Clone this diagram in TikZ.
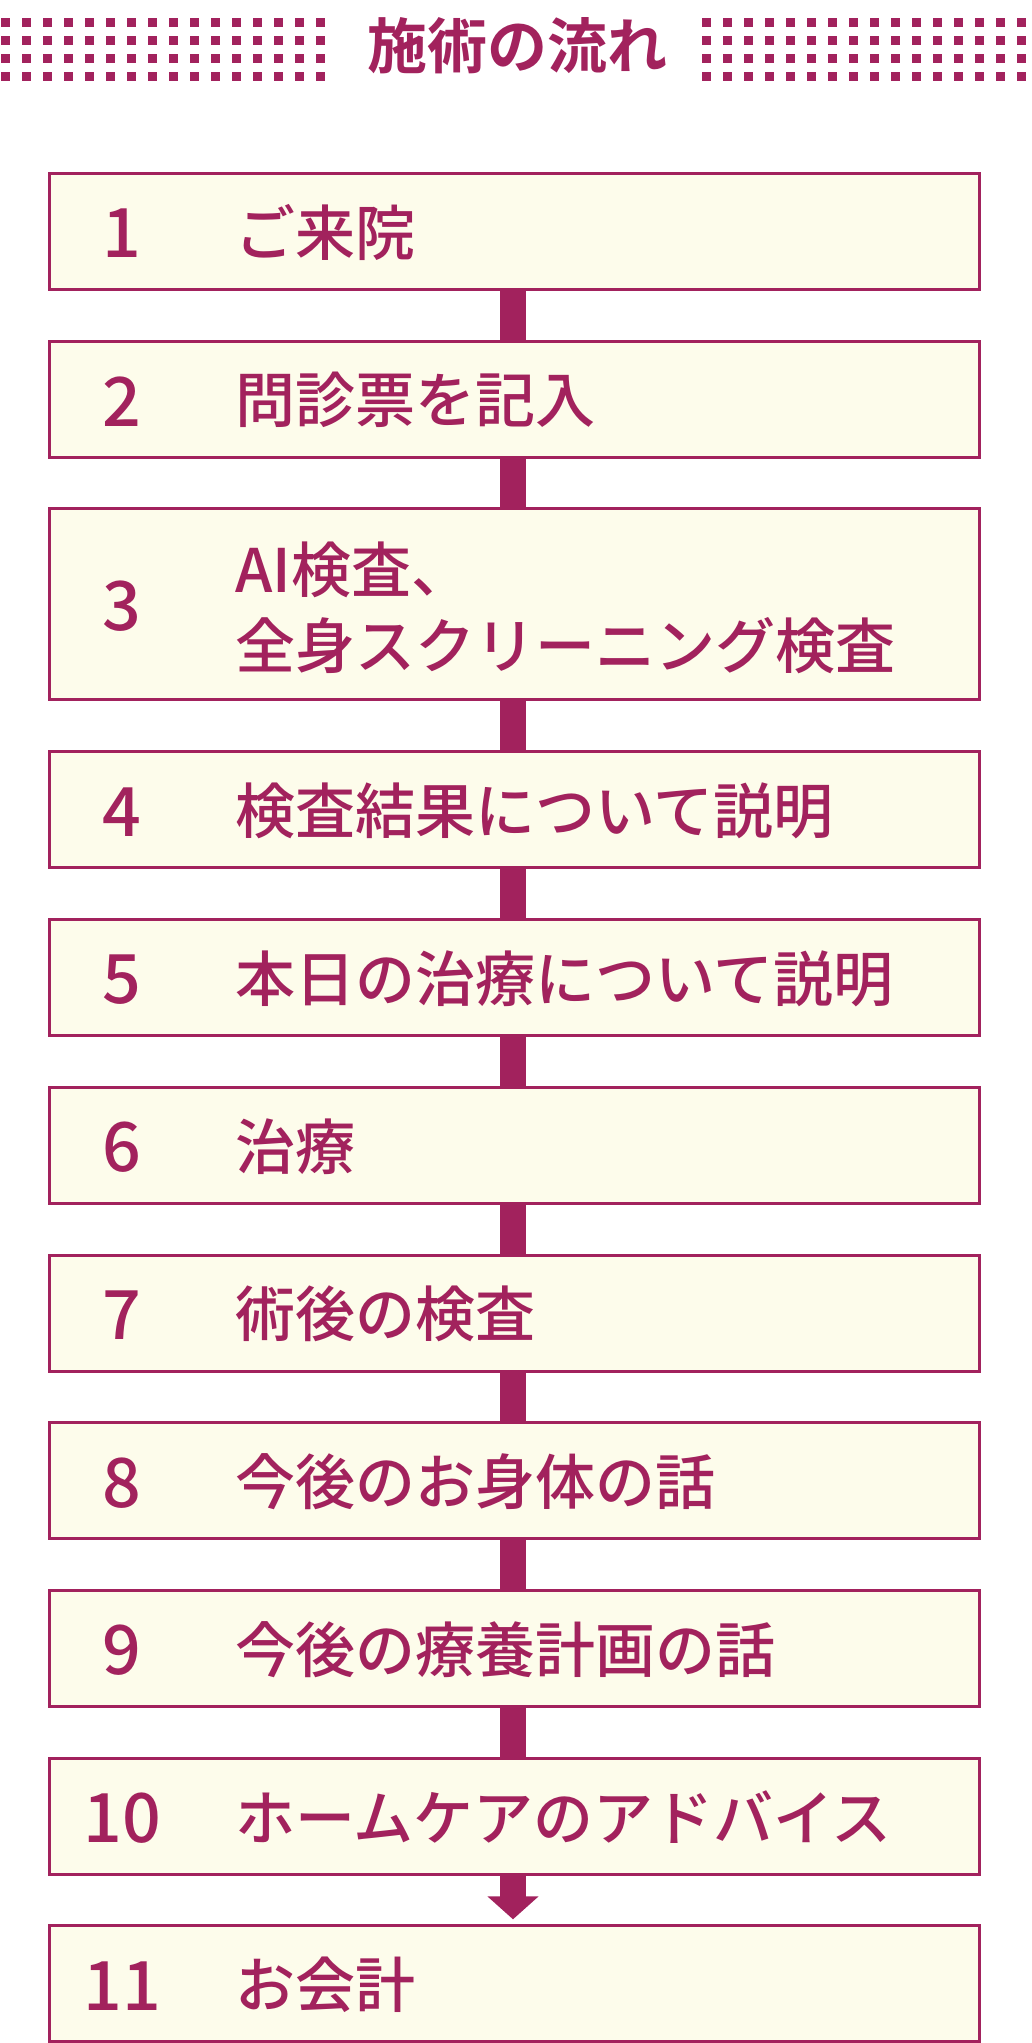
\documentclass[tikz,border=0pt]{standalone}
\usepackage{fontspec}
\usetikzlibrary{arrows.meta,calc}
\IfFontExistsTF{Noto Sans CJK JP Medium}
  {\newfontfamily\jpm{Noto Sans CJK JP Medium}}
  {\newfontfamily\jpm{Noto Sans CJK JP}[FakeBold=1.2]}
\IfFontExistsTF{Noto Sans CJK JP Bold}
  {\newfontfamily\jpb{Noto Sans CJK JP Bold}}
  {\newfontfamily\jpb{Noto Sans CJK JP}[FakeBold=2.5]}
\definecolor{mag}{HTML}{A2225D}
\definecolor{cream}{HTML}{FDFCEB}
\tikzset{
  stepbox/.style={draw=mag, fill=cream, line width=3pt, minimum width=930pt,
     minimum height=116pt, inner sep=0pt, anchor=north},
  tallbox/.style={stepbox, minimum height=191pt},
  numtext/.style={text=mag, inner sep=0pt, font=\jpm\fontsize{68pt}{68pt}\selectfont},
  steptext/.style={text=mag, inner sep=0pt, anchor=west, align=left,
     font=\jpm\fontsize{60pt}{76pt}\selectfont},
  conn/.style={draw=mag, line width=26pt},
  dot/.style={fill=mag}
}
\begin{document}
\begin{tikzpicture}[x=1pt,y=-1pt]
\useasboundingbox (0,0) rectangle (1032,2043);
% dotted bands
\foreach \j in {0,...,3}{
  \foreach \i in {0,...,15}{
    \fill[dot] ({1+21*\i},{18+18*\j}) rectangle ++(9,9);
    \fill[dot] ({702+21*\i},{18+18*\j}) rectangle ++(9,9);
  }
}
\node[text=mag, inner sep=0pt, font=\jpb\fontsize{60pt}{60pt}\selectfont] (title) at (517,46) {施術の流れ};
% boxes
\node[stepbox] (b1) at (514.5,172) {};
\node[stepbox] (b2) at (514.5,339.7) {};
\node[tallbox] (b3) at (514.5,507.4) {};
\node[stepbox] (b4) at (514.5,750.4) {};
\node[stepbox] (b5) at (514.5,918.1) {};
\node[stepbox] (b6) at (514.5,1085.8) {};
\node[stepbox] (b7) at (514.5,1253.5) {};
\node[stepbox] (b8) at (514.5,1421.2) {};
\node[stepbox] (b9) at (514.5,1588.9) {};
\node[stepbox] (b10) at (514.5,1756.6) {};
\node[stepbox] (b11) at (514.5,1924.3) {};
% connectors
\draw[conn] ($(b1.south)+(-1.5,0)$) -- ($(b2.north)+(-1.5,0)$);
\draw[conn] ($(b2.south)+(-1.5,0)$) -- ($(b3.north)+(-1.5,0)$);
\draw[conn] ($(b3.south)+(-1.5,0)$) -- ($(b4.north)+(-1.5,0)$);
\draw[conn] ($(b4.south)+(-1.5,0)$) -- ($(b5.north)+(-1.5,0)$);
\draw[conn] ($(b5.south)+(-1.5,0)$) -- ($(b6.north)+(-1.5,0)$);
\draw[conn] ($(b6.south)+(-1.5,0)$) -- ($(b7.north)+(-1.5,0)$);
\draw[conn] ($(b7.south)+(-1.5,0)$) -- ($(b8.north)+(-1.5,0)$);
\draw[conn] ($(b8.south)+(-1.5,0)$) -- ($(b9.north)+(-1.5,0)$);
\draw[conn] ($(b9.south)+(-1.5,0)$) -- ($(b10.north)+(-1.5,0)$);
\draw[conn, -{Triangle[width=50pt,length=23pt]}, shorten >=5pt] ($(b10.south)+(-1.5,0)$) -- ($(b11.north)+(-1.5,0)$);
% numbers
\foreach \k/\n in {1/1,2/2,3/3,4/4,5/5,6/6,7/7,8/8,9/9,10/10,11/11}{
  \node[numtext] (n\k) at ($(b\k.center)+(-392.5,2)$) {\n};
}
% texts
\node[steptext] (t1) at ($(b1.center)+(-279.5,1)$) {ご来院};
\node[steptext] (t2) at ($(b2.center)+(-279.5,1)$) {問診票を記入};
\node[steptext] (t3) at ($(b3.center)+(-279.5,3)$) {AI検査、\\全身スクリーニング検査};
\node[steptext] (t4) at ($(b4.center)+(-279.5,1)$) {検査結果について説明};
\node[steptext] (t5) at ($(b5.center)+(-279.5,1)$) {本日の治療について説明};
\node[steptext] (t6) at ($(b6.center)+(-279.5,1)$) {治療};
\node[steptext] (t7) at ($(b7.center)+(-279.5,1)$) {術後の検査};
\node[steptext] (t8) at ($(b8.center)+(-279.5,1)$) {今後のお身体の話};
\node[steptext] (t9) at ($(b9.center)+(-279.5,1)$) {今後の療養計画の話};
\node[steptext] (t10) at ($(b10.center)+(-279.5,1)$) {ホームケアのアドバイス};
\node[steptext] (t11) at ($(b11.center)+(-279.5,1)$) {お会計};
\end{tikzpicture}
\end{document}
